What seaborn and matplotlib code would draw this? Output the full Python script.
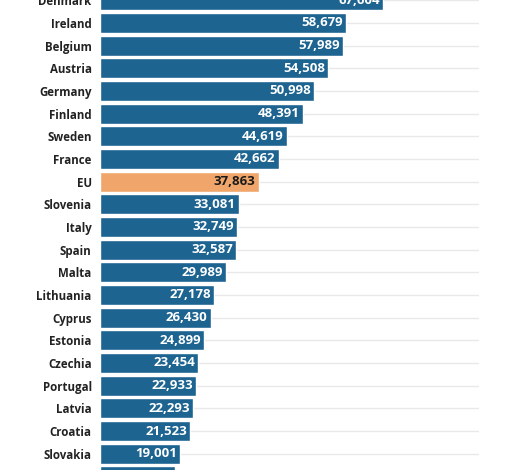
import matplotlib
matplotlib.use("Agg")
import matplotlib.pyplot as plt
import seaborn as sns
import pandas as pd

countries = ["Denmark", "Ireland", "Belgium", "Austria", "Germany", "Finland",
             "Sweden", "France", "EU", "Slovenia", "Italy", "Spain", "Malta",
             "Lithuania", "Cyprus", "Estonia", "Czechia", "Portugal", "Latvia",
             "Croatia", "Slovakia", "Greece"]
values = [67604, 58679, 57989, 54508, 50998, 48391, 44619, 42662, 37863,
          33081, 32749, 32587, 29989, 27178, 26430, 24899, 23454, 22933,
          22293, 21523, 19001, 17900]

blue = "#1d6491"
orange = "#f0a66a"
colors = [orange if c == "EU" else blue for c in countries]

df = pd.DataFrame({"country": countries, "value": values})

sns.set_style("white")
plt.rcParams["font.family"] = ["Open Sans", "DejaVu Sans"]

fig = plt.figure(figsize=(5.29, 4.70), dpi=100)
ax = fig.add_axes([100 / 529, 0, (479 - 100) / 529, 1])

# light row lines behind the bars
for i in range(len(countries)):
    ax.axhline(i, color="#e9e9e9", lw=1, zorder=0)

sns.barplot(data=df, x="value", y="country", hue="country", palette=colors,
            legend=False, width=0.88, saturation=1, ax=ax, zorder=2)

ax.set_xlim(0, 90500)
ax.set_ylim(20.72, -0.01)

for i, (c, v) in enumerate(zip(countries, values)):
    txt_color = "#1a1a1a" if c == "EU" else "white"
    ax.text(v - 700, i, f"{v:,}", ha="right", va="center", color=txt_color,
            fontsize=9.5, fontweight="bold", zorder=3)

ax.set_xlabel("")
ax.set_ylabel("")
ax.set_xticks([])
ax.tick_params(axis="y", length=0, pad=6)
for lab in ax.get_yticklabels():
    lab.set_fontsize(8.3)
    lab.set_fontweight("bold")
    lab.set_color("#222222")
sns.despine(ax=ax, left=True, bottom=True)

fig.savefig("out.png", dpi=100)
